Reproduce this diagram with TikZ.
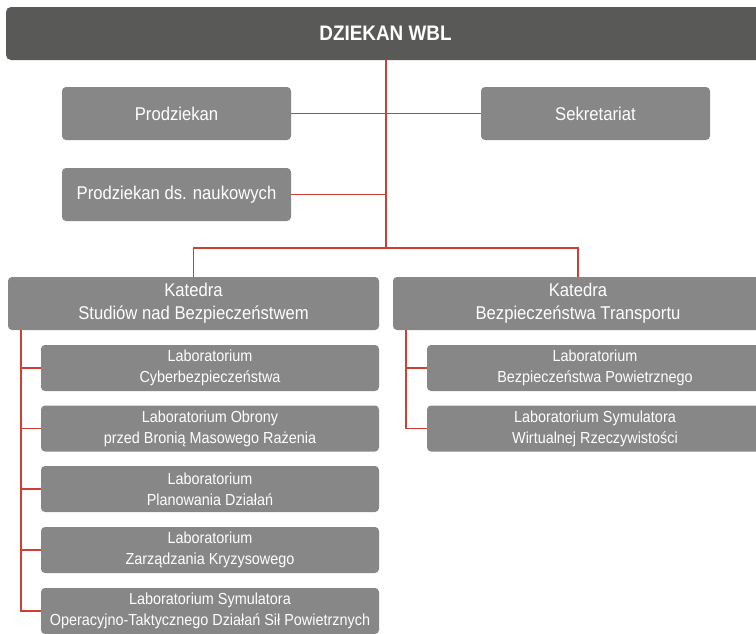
\documentclass[tikz,border=0pt]{standalone}
\usepackage{fontspec}
\setmainfont{Liberation Sans}[FakeStretch=0.9]
\definecolor{boxgray}{HTML}{878787}
\definecolor{topgray}{HTML}{595957}
\definecolor{linkred}{HTML}{CF4034}
\tikzset{
  box/.style={fill=boxgray, rounded corners=4pt, text=white, align=center, inner sep=0pt, font=\fontsize{18.5}{23}\selectfont},
  labbox/.style={box, font=\fontsize{16}{21}\selectfont},
  topbox/.style={fill=topgray, rounded corners=5pt, text=white, align=center, inner sep=0pt},
  link/.style={draw=linkred, line width=1.3pt}
}
\begin{document}
\begin{tikzpicture}[x=1pt,y=-1pt]
\useasboundingbox (0,0) rectangle (756,633);
% top bar
\node[topbox, minimum width=760, minimum height=53] (dz) at (386,33.5) {};
\node[text=white, font=\bfseries\fontsize{21}{24}\selectfont] (dzt) at (385.5,33.5) {DZIEKAN WBL};
% second level
\node[box, minimum width=229, minimum height=53] (pd) at (176.5,113.5) {Prodziekan};
\node[box, minimum width=229, minimum height=53] (sek) at (595.5,113.5) {Sekretariat};
\node[box, minimum width=229, minimum height=53] (pdn) at (176.5,194.5) {Prodziekan ds. naukowych};
% katedry
\node[box, minimum width=371, minimum height=53] (kl) at (193.5,303.5) {Katedra\\Studiów nad Bezpieczeństwem};
\node[box, minimum width=370, minimum height=53] (kr) at (578,303.5) {Katedra\\Bezpieczeństwa Transportu};
% left labs
\node[labbox, minimum width=338, minimum height=46] (l1) at (210,368) {Laboratorium\\Cyberbezpieczeństwa};
\node[labbox, minimum width=338, minimum height=46] (l2) at (210,428.5) {Laboratorium Obrony\\przed Bronią Masowego Rażenia};
\node[labbox, minimum width=338, minimum height=46] (l3) at (210,489) {Laboratorium\\Planowania Działań};
\node[labbox, minimum width=338, minimum height=46] (l4) at (210,550) {Laboratorium\\Zarządzania Kryzysowego};
\node[labbox, minimum width=338, minimum height=46] (l5) at (210,611) {Laboratorium Symulatora\\Operacyjno-Taktycznego Działań Sił Powietrznych};
% right labs
\node[labbox, minimum width=336, minimum height=46] (r1) at (595,368) {Laboratorium\\Bezpieczeństwa Powietrznego};
\node[labbox, minimum width=336, minimum height=46] (r2) at (595,428.5) {Laboratorium Symulatora\\Wirtualnej Rzeczywistości};
% connectors
\coordinate (spine) at (386,248);
\coordinate (lbus) at (21,330);
\coordinate (rbus) at (406,330);
\draw[link] (dz.south -| spine) -- (spine);
\draw[link] (pd.east) -- (sek.west);
\draw[link] (pdn.east) -- (pdn.east -| spine);
\draw[link] (kl.north) |- (spine) -| (kr.north);
\draw[link] (lbus) |- (l5.west);
\foreach \n in {l1,l2,l3,l4} \draw[link] (\n.west -| lbus) -- (\n.west);
\draw[link] (rbus) |- (r2.west);
\draw[link] (r1.west -| rbus) -- (r1.west);
\end{tikzpicture}
\end{document}
